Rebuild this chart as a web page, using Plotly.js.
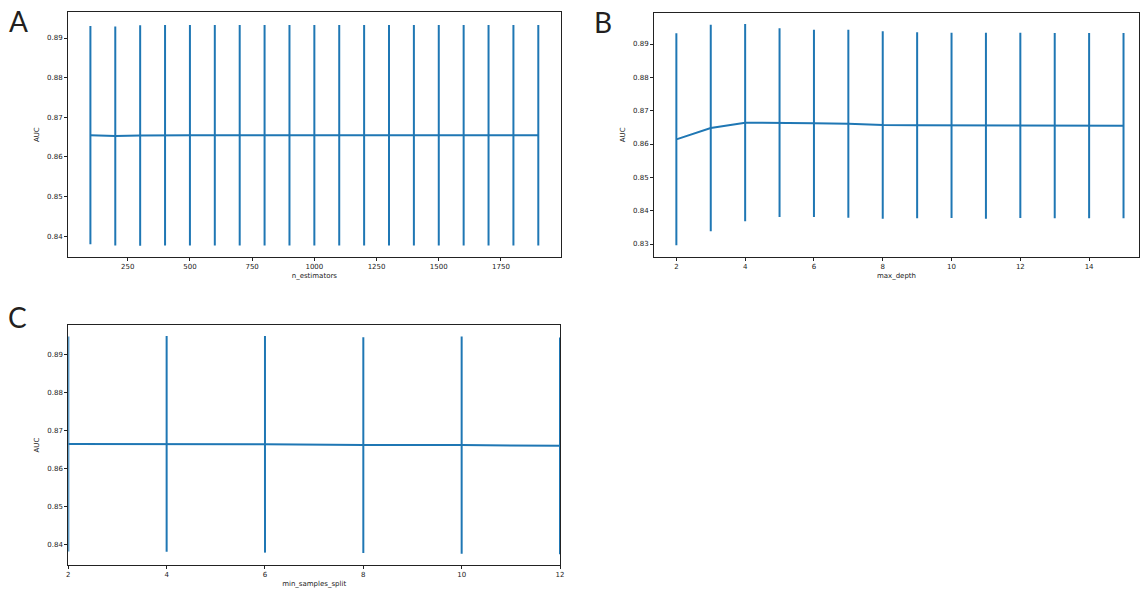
<!DOCTYPE html>
<html>
<head>
<meta charset="utf-8">
<script src="https://cdn.plot.ly/plotly-3.0.1.min.js"></script>
<style>html,body{margin:0;padding:0;background:#fff;}#chart{width:1140px;height:590px;}</style>
</head>
<body>
<div id="chart"></div>
<script>
// Panel A: n_estimators
const nEstimators = [100,200,300,400,500,600,700,800,900,1000,1100,1200,1300,1400,1500,1600,1700,1800,1900];
const aucA = [0.8655,0.8653,0.8654,0.8655,0.8655,0.8655,0.8655,0.8655,0.8655,0.8655,0.8655,0.8655,0.8655,0.8655,0.8655,0.8655,0.8655,0.8655,0.8655];
const stdA = [0.0275,0.0276,0.0278,0.0278,0.0278,0.0278,0.0278,0.0278,0.0278,0.0278,0.0278,0.0278,0.0278,0.0278,0.0278,0.0278,0.0278,0.0278,0.0278];

// Panel B: max_depth
const maxDepth = [2,3,4,5,6,7,8,9,10,11,12,13,14,15];
const aucB = [0.8614,0.8648,0.8664,0.8664,0.8662,0.8661,0.8657,0.8656,0.8656,0.8655,0.8656,0.8655,0.8655,0.8655];
const stdB = [0.0318,0.0310,0.0296,0.0283,0.0281,0.0282,0.0281,0.0279,0.0278,0.0279,0.0278,0.0278,0.0278,0.0278];

// Panel C: min_samples_split
const minSamplesSplit = [2,4,6,8,10,12];
const aucC = [0.8665,0.8665,0.8664,0.8662,0.8662,0.8660];
const stdC = [0.0284,0.0285,0.0286,0.0285,0.0287,0.0286];

const yTicksA = [0.84,0.85,0.86,0.87,0.88,0.89];
const yTicksB = [0.83,0.84,0.85,0.86,0.87,0.88,0.89];
const xTicksA = [250,500,750,1000,1250,1500,1750];
const xTicksB = [2,4,6,8,10,12,14];
const xTicksC = [2,4,6,8,10,12];

const blue = '#1f77b4';
function trace(x, y, s, xa, ya) {
  return {
    x: x, y: y, type: 'scatter', mode: 'lines', xaxis: xa, yaxis: ya,
    line: {color: blue, width: 2},
    error_y: {type: 'data', array: s, visible: true, color: blue, thickness: 2, width: 0},
    showlegend: false, hoverinfo: 'skip'
  };
}

const tickFont = {family: 'DejaVu Sans', size: 7, color: '#222'};
function axisBase(extra) {
  return Object.assign({
    showgrid: false, zeroline: false, showline: true, linecolor: '#222', linewidth: 1, mirror: true,
    ticks: 'outside', ticklen: 3, tickwidth: 1, tickcolor: '#222', tickfont: tickFont,
    automargin: false, fixedrange: true
  }, extra);
}

const W = 1140, H = 590;
const dx = (a, b) => [a / W, b / W];
const dy = (top, bottom) => [1 - bottom / H, 1 - top / H];

const letterFont = {family: 'Lato', size: 28, color: '#231f20'};
const layout = {
  width: W, height: H,
  margin: {l: 0, r: 0, t: 0, b: 0},
  paper_bgcolor: '#fff', plot_bgcolor: '#fff',
  font: {family: 'DejaVu Sans', size: 7, color: '#222'},
  xaxis: axisBase({domain: dx(68, 560.7), range: [10, 1990], tickvals: xTicksA, anchor: 'y',
    title: {text: 'n_estimators', font: {size: 7}, standoff: 2}}),
  yaxis: axisBase({domain: dy(12.3, 257), range: [0.83478, 0.89648], tickvals: yTicksA, tickformat: '.2f', anchor: 'x',
    title: {text: 'AUC', font: {size: 7}, standoff: 6}}),
  xaxis2: axisBase({domain: dx(654, 1139), range: [1.35, 15.45], tickvals: xTicksB, anchor: 'y2',
    title: {text: 'max_depth', font: {size: 7}, standoff: 2}}),
  yaxis2: axisBase({domain: dy(12.7, 257), range: [0.8261, 0.89939], tickvals: yTicksB, tickformat: '.2f', anchor: 'x2',
    title: {text: 'AUC', font: {size: 7}, standoff: 6}}),
  xaxis3: axisBase({domain: dx(68.3, 560), range: [2, 12], tickvals: xTicksC, anchor: 'y3',
    title: {text: 'min_samples_split', font: {size: 7}, standoff: 2}}),
  yaxis3: axisBase({domain: dy(325, 565), range: [0.83453, 0.89792], tickvals: yTicksA, tickformat: '.2f', anchor: 'x3',
    title: {text: 'AUC', font: {size: 7}, standoff: 6}}),
  annotations: [
    {text: 'A', xref: 'paper', yref: 'paper', x: 7 / W, y: 1 - 2 / H, xanchor: 'left', yanchor: 'top', showarrow: false, font: letterFont},
    {text: 'B', xref: 'paper', yref: 'paper', x: 592 / W, y: 1 - 3 / H, xanchor: 'left', yanchor: 'top', showarrow: false, font: letterFont},
    {text: 'C', xref: 'paper', yref: 'paper', x: 6 / W, y: 1 - 298 / H, xanchor: 'left', yanchor: 'top', showarrow: false, font: letterFont}
  ]
};

const data = [
  trace(nEstimators, aucA, stdA, 'x', 'y'),
  trace(maxDepth, aucB, stdB, 'x2', 'y2'),
  trace(minSamplesSplit, aucC, stdC, 'x3', 'y3')
];

Plotly.newPlot('chart', data, layout, {staticPlot: true, displayModeBar: false});
</script>
</body>
</html>
